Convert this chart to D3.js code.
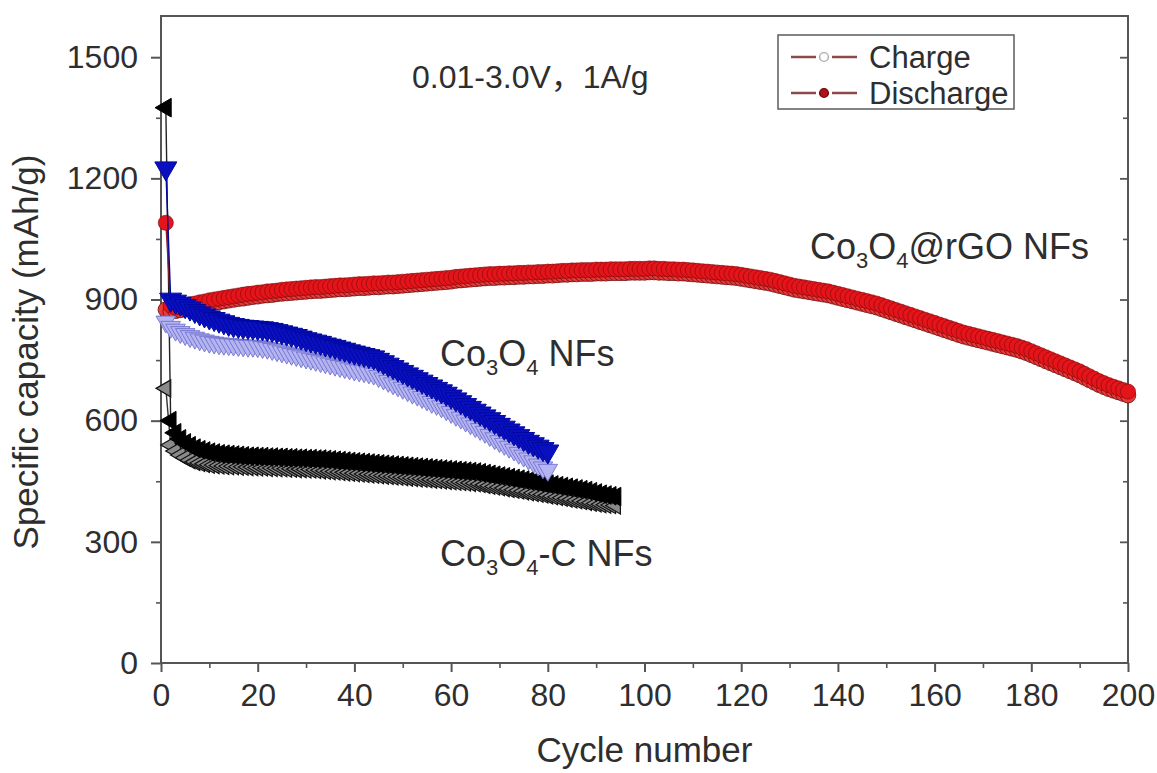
<!DOCTYPE html>
<html>
<head>
<meta charset="utf-8">
<script src="https://cdn.jsdelivr.net/npm/d3@7"></script>
<style>
  body { margin: 0; background: #fff; }
  svg { display: block; }
  text { font-family: "Liberation Sans", Arial, sans-serif; fill: #2e2e2e; }
</style>
</head>
<body>
<svg id="chart" width="1157" height="773"></svg>
<script>
// ---------- data (capacity in mAh/g, index i -> cycle i+1) ----------
const rgoDischarge = [1090,885,880,882,885,888,890,893,895,898,
 900,902,904,906,908,910,912,914,915,917,
 918,920,921,922,924,925,926,927,928,929,
 930,931,931,932,933,934,935,935,936,937,
 938,938,939,940,940,941,942,942,943,944,
 945,946,947,948,949,950,951,952,953,954,
 956,957,958,959,960,961,962,963,963,964,
 964,965,965,966,966,967,967,968,968,969,
 969,970,971,971,972,972,973,973,973,974,
 974,974,975,975,975,975,976,976,976,976,
 977,977,976,976,975,975,974,974,973,972,
 971,970,969,968,967,966,965,964,963,961,
 959,957,955,953,951,949,946,943,940,937,
 934,932,930,928,926,924,922,920,917,914,
 911,908,905,902,899,896,893,890,886,882,
 878,874,870,866,862,858,854,850,846,842,
 838,834,830,826,822,818,815,812,809,806,
 803,800,797,794,791,788,785,781,777,772,
 767,762,757,752,747,742,737,732,727,722,
 716,710,704,698,693,688,684,680,676,672];
const rgoCharge = [875,870,872,874,877,880,882,885,887,890,
 892,894,896,898,900,902,903,905,907,908,
 910,911,912,914,915,916,917,918,919,920,
 921,922,922,923,924,925,926,926,927,928,
 929,929,930,931,931,932,933,933,934,935,
 936,937,938,939,940,941,942,943,944,945,
 947,948,949,950,951,952,953,954,954,955,
 955,956,956,957,957,958,958,959,959,960,
 960,961,962,962,963,963,964,964,964,965,
 965,965,966,966,966,966,967,967,967,967,
 968,968,967,967,966,966,965,965,964,963,
 962,961,960,959,958,957,956,955,954,952,
 950,948,946,944,942,940,937,934,931,928,
 925,923,921,919,917,915,913,911,908,905,
 902,899,896,893,890,887,884,881,877,873,
 869,865,861,857,853,849,845,841,837,833,
 829,825,821,817,813,809,806,803,800,797,
 794,791,788,785,782,779,776,772,768,763,
 758,753,748,743,738,733,728,723,718,713,
 707,701,695,689,684,679,675,671,667,663];

const nfDischarge = [1225,900,895,890,884,878,872,866,861,856,
 852,848,844,840,837,835,833,832,831,830,
 829,827,825,822,819,816,813,810,806,802,
 799,796,793,789,786,783,779,776,772,769,
 766,763,760,757,751,745,739,733,727,721,
 715,709,703,697,691,685,679,673,667,660,
 653,646,639,632,625,618,611,604,597,590,
 583,576,569,562,555,548,542,536,530,524];
const nfCharge = [845,832,825,819,814,809,805,801,798,795,
 793,791,790,789,788,787,786,785,785,784,
 782,780,777,774,771,768,765,762,759,756,
 753,750,747,744,741,738,735,732,729,726,
 724,722,719,716,710,704,698,692,687,681,
 675,669,664,658,652,646,641,635,628,621,
 614,607,600,593,586,579,572,564,556,549,
 542,535,528,520,513,506,499,491,484,478];

const cDischarge = [1375,600,570,555,545,538,532,528,525,522,
 520,518,517,516,515,514,513,512,512,511,
 511,510,510,509,509,508,508,507,507,506,
 506,505,505,504,503,502,501,500,499,498,
 497,496,495,494,493,492,491,490,489,488,
 487,486,485,484,483,482,481,480,479,478,
 477,476,475,474,473,471,469,467,465,463,
 461,459,457,455,453,451,449,447,445,443,
 441,439,437,435,433,431,429,427,424,421,
 418,416,414,412];
const cCharge = [680,540,525,515,508,502,498,495,493,491,
 490,489,488,487,487,486,486,485,485,484,
 484,483,483,482,482,481,481,480,480,479,
 479,478,477,476,475,474,473,472,471,470,
 469,468,467,466,465,464,463,462,461,460,
 459,458,457,456,455,454,453,452,451,450,
 449,448,447,446,445,443,441,439,437,435,
 433,431,429,427,425,423,421,419,417,415,
 413,411,409,407,405,403,401,399,397,395,
 393,392,391,390];

const xTicks = [0,20,40,60,80,100,120,140,160,180,200];
const yTicks = [0,300,600,900,1200,1500];
const legendLabels = ["Charge","Discharge"];
const annotationParts = ["0.01-3.0V", "，", "1A/g"];

// ---------- layout ----------
const svg = d3.select("#chart");
const L = 161, R = 1128, T = 16, B = 663;
const x = d3.scaleLinear().domain([0,200]).range([L,R]);
const y = d3.scaleLinear().domain([0,1602]).range([B,T]);
const axisColor = "#555";
const FONT = "Liberation Sans, Arial, sans-serif";

// frame
svg.append("rect").attr("x",L).attr("y",T).attr("width",R-L).attr("height",B-T)
  .attr("fill","none").attr("stroke",axisColor).attr("stroke-width",2);

// bottom axis
const gx = svg.append("g").attr("transform",`translate(0,${B})`)
  .call(d3.axisBottom(x).tickValues(xTicks).tickSize(9).tickPadding(11).tickFormat(d3.format("d")));
gx.select(".domain").remove();
gx.selectAll("line").attr("stroke",axisColor).attr("stroke-width",2);
gx.selectAll("text").attr("font-size",32).attr("fill","#2e2e2e").attr("font-family",FONT);
const gxm = svg.append("g").attr("transform",`translate(0,${B})`)
  .call(d3.axisBottom(x).tickValues(d3.range(10,200,20)).tickSize(5).tickFormat(""));
gxm.select(".domain").remove();
gxm.selectAll("line").attr("stroke",axisColor).attr("stroke-width",1.6);

// left axis
const gy = svg.append("g").attr("transform",`translate(${L},0)`)
  .call(d3.axisLeft(y).tickValues(yTicks).tickSize(10).tickPadding(13).tickFormat(d3.format("d")));
gy.select(".domain").remove();
gy.selectAll("line").attr("stroke",axisColor).attr("stroke-width",2);
gy.selectAll("text").attr("font-size",32).attr("fill","#2e2e2e").attr("font-family",FONT);
const gym = svg.append("g").attr("transform",`translate(${L},0)`)
  .call(d3.axisLeft(y).tickValues(d3.range(150,1600,300)).tickSize(5).tickFormat(""));
gym.select(".domain").remove();
gym.selectAll("line").attr("stroke",axisColor).attr("stroke-width",1.6);

// right axis (inward ticks)
const gr = svg.append("g").attr("transform",`translate(${R},0)`)
  .call(d3.axisLeft(y).tickValues(yTicks.filter(v=>v>0)).tickSize(8).tickFormat(""));
gr.select(".domain").remove();
gr.selectAll("line").attr("stroke",axisColor).attr("stroke-width",1.8);
const grm = svg.append("g").attr("transform",`translate(${R},0)`)
  .call(d3.axisLeft(y).tickValues(d3.range(150,1600,300)).tickSize(5).tickFormat(""));
grm.select(".domain").remove();
grm.selectAll("line").attr("stroke",axisColor).attr("stroke-width",1.6);

// axis titles
svg.append("text").attr("x",(L+R)/2).attr("y",762).attr("text-anchor","middle")
  .attr("font-size",35).text("Cycle number");
svg.append("text").attr("transform",`translate(38,352) rotate(-90)`)
  .attr("text-anchor","middle").attr("font-size",35).text("Specific capacity (mAh/g)");

// ---------- series ----------
const plot = svg.append("g");
function drawSeries(values, opt) {
  const pts = values.map((v,i)=>[i+1, v]);
  plot.append("path").datum(pts)
    .attr("d", d3.line().x(d=>x(d[0])).y(d=>y(d[1])))
    .attr("fill","none").attr("stroke",opt.line).attr("stroke-width",1.4);
  const sym = d3.symbol().type(opt.type).size(opt.size);
  plot.append("g").selectAll("path").data(pts).join("path")
    .attr("transform", d=>`translate(${x(d[0])},${y(d[1])}) rotate(${opt.rot||0})`)
    .attr("d", sym())
    .attr("fill", opt.fill).attr("stroke", opt.stroke).attr("stroke-width", opt.sw);
}
// black Co3O4-C
drawSeries(cCharge,   {type:d3.symbolTriangle, rot:-90, size:125, fill:"#8a8a8a", stroke:"#111", sw:1.2, line:"#333"});
drawSeries(cDischarge,{type:d3.symbolTriangle, rot:-90, size:150, fill:"#000", stroke:"#000", sw:1, line:"#222"});
// red Co3O4@rGO
drawSeries(rgoCharge,   {type:d3.symbolCircle, size:190, fill:"#e83a3a", stroke:"#6a0c0c", sw:0.8, line:"#8b3030"});
drawSeries(rgoDischarge,{type:d3.symbolCircle, size:180, fill:"#e5141a", stroke:"#7a0a0a", sw:0.6, line:"#8b2020"});
// blue Co3O4
drawSeries(nfCharge,   {type:d3.symbolTriangle, rot:180, size:165, fill:"#b4b4f0", stroke:"#7070d0", sw:0.9, line:"#7070c8"});
drawSeries(nfDischarge,{type:d3.symbolTriangle, rot:180, size:210, fill:"#0a10c0", stroke:"#0008a0", sw:1, line:"#0008a0"});

// ---------- annotations ----------
const ann = svg.append("text").attr("x",412).attr("y",88).attr("font-size",32);
ann.append("tspan").text(annotationParts[0]);
ann.append("tspan").attr("font-family","Noto Sans CJK SC").text(annotationParts[1]);
ann.append("tspan").text(annotationParts[2]);

function chem(xp, yp, parts) {
  const t = svg.append("text").attr("x",xp).attr("y",yp).attr("font-size",36);
  parts.forEach(p => {
    if (p.sub) t.append("tspan").attr("font-size",22).attr("dy",9).text(p.t);
    else t.append("tspan").attr("font-size",36).attr("dy",p.back ? -9 : 0).text(p.t);
  });
}
chem(440, 366, [{t:"Co"},{t:"3",sub:true},{t:"O",back:true},{t:"4",sub:true},{t:" NFs",back:true}]);
chem(440, 566, [{t:"Co"},{t:"3",sub:true},{t:"O",back:true},{t:"4",sub:true},{t:"-C NFs",back:true}]);
chem(810, 259, [{t:"Co"},{t:"3",sub:true},{t:"O",back:true},{t:"4",sub:true},{t:"@rGO NFs",back:true}]);

// ---------- legend ----------
const lg = svg.append("g");
lg.append("rect").attr("x",778).attr("y",35).attr("width",236).attr("height",74)
  .attr("fill","#fff").attr("stroke","#666").attr("stroke-width",1.6);
const legendStyle = [
  {fill:"#fff", stroke:"#aaa"},
  {fill:"#b0101a", stroke:"#700808"}
];
legendLabels.forEach((lab,i) => {
  const yy = 57 + i*36;
  lg.append("line").attr("x1",791).attr("x2",816).attr("y1",yy).attr("y2",yy)
    .attr("stroke","#8b4a4a").attr("stroke-width",2.5);
  lg.append("line").attr("x1",832).attr("x2",857).attr("y1",yy).attr("y2",yy)
    .attr("stroke","#8b4a4a").attr("stroke-width",2.5);
  lg.append("path").attr("transform",`translate(824,${yy})`)
    .attr("d", d3.symbol().type(d3.symbolCircle).size(60)())
    .attr("fill",legendStyle[i].fill).attr("stroke",legendStyle[i].stroke).attr("stroke-width",1.4);
  lg.append("text").attr("x",869).attr("y",yy+11).attr("font-size",31).text(lab);
});
</script>
</body>
</html>
